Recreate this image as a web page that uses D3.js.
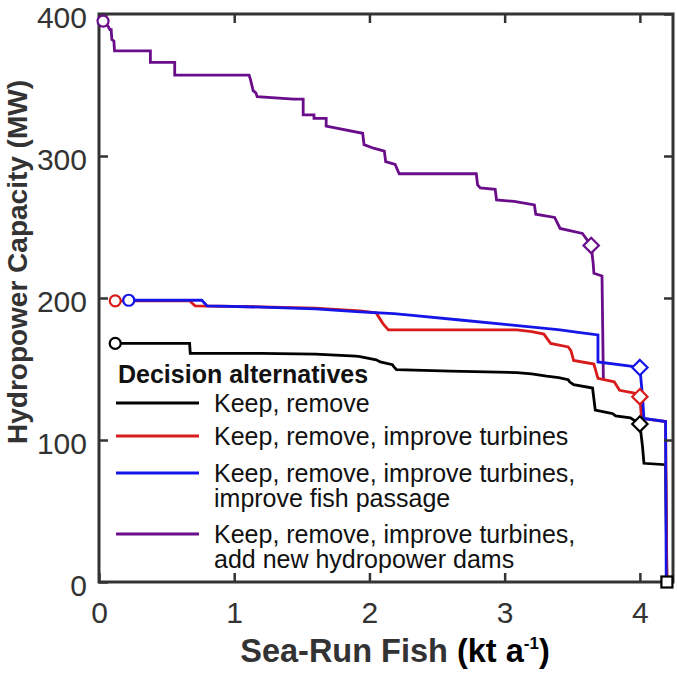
<!DOCTYPE html>
<html><head><meta charset="utf-8">
<script src="https://cdn.jsdelivr.net/npm/d3@7"></script>
<style>body{margin:0;background:#fff}</style>
</head><body>
<svg id="c" width="677" height="675"></svg>
<script>
const xTicks = [0, 1, 2, 3, 4];
const yTicks = [0, 100, 200, 300, 400];
const legendTitle = "Decision alternatives";
const seriesNames = [
  ["Keep, remove"],
  ["Keep, remove, improve turbines"],
  ["Keep, remove, improve turbines,", "improve fish passage"],
  ["Keep, remove, improve turbines,", "add new hydropower dams"]
];
const keepRemove = [[0.12,168],[0.67,168],[0.675,161],[1.2,161],[1.6,160.5],[1.9,159],[1.93,158.7],[2.05,156.5],[2.08,155],[2.17,153],[2.18,151.6],[2.2,149.5],[2.6,148.5],[3.09,147.5],[3.2,146.5],[3.31,145],[3.4,144],[3.47,142.5],[3.48,141],[3.51,139],[3.65,136.6],[3.67,121],[3.78,119],[3.8,118.5],[3.82,117],[3.93,115.6],[4.0,111.3],[4.02,95],[4.03,83.6],[4.19,82.6],[4.2,0]];
const improveTurbines = [[0.12,198],[0.67,198],[0.71,194.5],[1.2,193.8],[1.6,192.8],[1.93,191],[2.05,189.5],[2.1,182],[2.14,177.5],[3.09,177.5],[3.2,176.3],[3.29,174.6],[3.34,168],[3.47,165.5],[3.49,163],[3.51,156],[3.66,153.5],[3.69,143.4],[3.81,141],[3.85,135],[3.96,133],[4.0,130.5],[4.01,118],[4.03,115],[4.19,113],[4.2,0]];
const fishPassage = [[0.22,198.4],[0.76,198.4],[0.80,194.4],[1.2,193.6],[1.6,192.3],[1.93,190.3],[2.18,189],[2.3,188],[2.67,184.5],[3.04,181],[3.41,177.5],[3.53,176],[3.69,174],[3.69,155],[3.93,152],[4.0,151],[4.02,130],[4.03,115.2],[4.19,113],[4.195,0]];
const newDams = [[0.03,395],[0.07,391],[0.08,389],[0.09,389],[0.095,382],[0.11,381],[0.115,374],[0.38,374],[0.38,366],[0.56,366],[0.56,357],[1.11,357],[1.12,354],[1.14,346],[1.16,344.5],[1.17,341.8],[1.44,340],[1.51,340],[1.51,329],[1.59,329],[1.59,326.5],[1.68,326.5],[1.68,321],[1.95,316],[1.96,308],[2.03,305.5],[2.11,303.5],[2.12,296],[2.19,294],[2.22,287.5],[2.79,287.5],[2.80,279.6],[2.82,277.5],[2.93,276.5],[2.94,269],[3.07,268],[3.22,265.5],[3.23,259],[3.37,256.7],[3.41,249],[3.575,245.5],[3.64,237],[3.655,224],[3.66,217.4],[3.72,215.5],[3.73,143]];
const startPoints = [[0.12,168],[0.12,198],[0.22,198.4],[0.03,395]];
const diamondPoints = [[4.0,111.3],[4.0,130.5],[4.0,151],[3.64,237]];
const squarePoint = [4.2, 0];
const colors = ["#000000", "#d81b1b", "#1515e8", "#6a0d8a"];

const svg = d3.select("#c");
const x = d3.scaleLinear().domain([0, 4.245]).range([99, 673]);
const y = d3.scaleLinear().domain([0, 400]).range([582, 14]);
const axisColor = "#333";

// lines
const series = [keepRemove, improveTurbines, fishPassage, newDams];
const order = [3, 0, 1, 2];
const line = d3.line().x(d => x(d[0])).y(d => y(d[1]));
const plot = svg.append("g");
order.forEach(i => {
  plot.append("path").attr("d", line(series[i])).attr("fill", "none")
    .attr("stroke", colors[i]).attr("stroke-width", 2.8).attr("stroke-linejoin", "miter");
});

// axes
function styleAxis(g, labels) {
  g.select(".domain").remove();
  g.selectAll(".tick line").attr("stroke", axisColor).attr("stroke-width", 2.5);
  g.selectAll(".tick text").attr("fill", axisColor)
    .attr("font-family", "Liberation Sans, Arial, sans-serif").attr("font-size", 30);
  if (!labels) g.selectAll(".tick text").remove();
}
svg.append("g").attr("transform", `translate(0,${y(0)})`)
  .call(d3.axisBottom(x).tickValues(xTicks).tickSize(-9).tickPadding(20).tickFormat(d3.format("d")))
  .call(g => styleAxis(g, true));
svg.append("g").attr("transform", `translate(0,${y(400)})`)
  .call(d3.axisTop(x).tickValues(xTicks).tickSize(-9))
  .call(g => styleAxis(g, false));
svg.append("g").attr("transform", `translate(${x(0)},0)`)
  .call(d3.axisLeft(y).tickValues(yTicks).tickSize(-9).tickPadding(12).tickFormat(d3.format("d")))
  .call(g => styleAxis(g, true))
  .call(g => g.selectAll(".tick text").attr("dy", "0.44em"));
svg.append("g").attr("transform", `translate(${x(4.245)},0)`)
  .call(d3.axisRight(y).tickValues(yTicks).tickSize(-9))
  .call(g => styleAxis(g, false));
svg.append("rect").attr("x", x(0)).attr("y", y(400)).attr("width", x(4.245) - x(0)).attr("height", y(0) - y(400))
  .attr("fill", "none").attr("stroke", axisColor).attr("stroke-width", 3);

// markers
startPoints.forEach((p, i) => {
  svg.append("circle").attr("cx", x(p[0])).attr("cy", y(p[1])).attr("r", 5.5)
    .attr("fill", "#fff").attr("stroke", colors[i]).attr("stroke-width", 2.2);
});
const diamond = d3.symbol().type(d3.symbolDiamond2).size(150);
diamondPoints.forEach((p, i) => {
  svg.append("path").attr("d", diamond()).attr("transform", `translate(${x(p[0])},${y(p[1])})`)
    .attr("fill", "#fff").attr("stroke", colors[i]).attr("stroke-width", 2.2);
});
svg.append("rect").attr("x", x(squarePoint[0]) - 5.5).attr("y", y(squarePoint[1]) - 5.5)
  .attr("width", 11).attr("height", 11).attr("fill", "#fff").attr("stroke", "#000").attr("stroke-width", 2.2);

// legend
const lg = svg.append("g").attr("font-family", "Liberation Sans, Arial, sans-serif").attr("font-size", 25).attr("fill", "#111");
lg.append("text").attr("x", 118).attr("y", 383).attr("font-weight", "bold").text(legendTitle);
const lineYs = [403, 436, 473, 534];
seriesNames.forEach((lines, i) => {
  lg.append("line").attr("x1", 116).attr("x2", 199).attr("y1", lineYs[i]).attr("y2", lineYs[i])
    .attr("stroke", colors[i]).attr("stroke-width", 2.8);
  lines.forEach((t, j) => {
    lg.append("text").attr("x", 214).attr("y", lineYs[i] + 9 + j * 25).text(t);
  });
});

// axis labels
const xl = svg.append("text").attr("x", 395).attr("y", 662).attr("text-anchor", "middle")
  .attr("font-family", "Liberation Sans, Arial, sans-serif").attr("font-size", 32.5).attr("font-weight", "bold");
xl.append("tspan").attr("fill", axisColor).text("Sea-Run Fish ");
xl.append("tspan").attr("fill", "#000").text("(kt a");
xl.append("tspan").attr("fill", "#000").attr("font-size", 17).attr("dy", -13).text("-1");
xl.append("tspan").attr("fill", "#000").attr("dy", 13).text(")");

svg.append("text").attr("transform", "translate(27,262) rotate(-90)").attr("text-anchor", "middle")
  .attr("font-family", "Liberation Sans, Arial, sans-serif").attr("font-size", 28).attr("font-weight", "bold")
  .attr("fill", axisColor).text("Hydropower Capacity (MW)");
</script>
</body></html>
